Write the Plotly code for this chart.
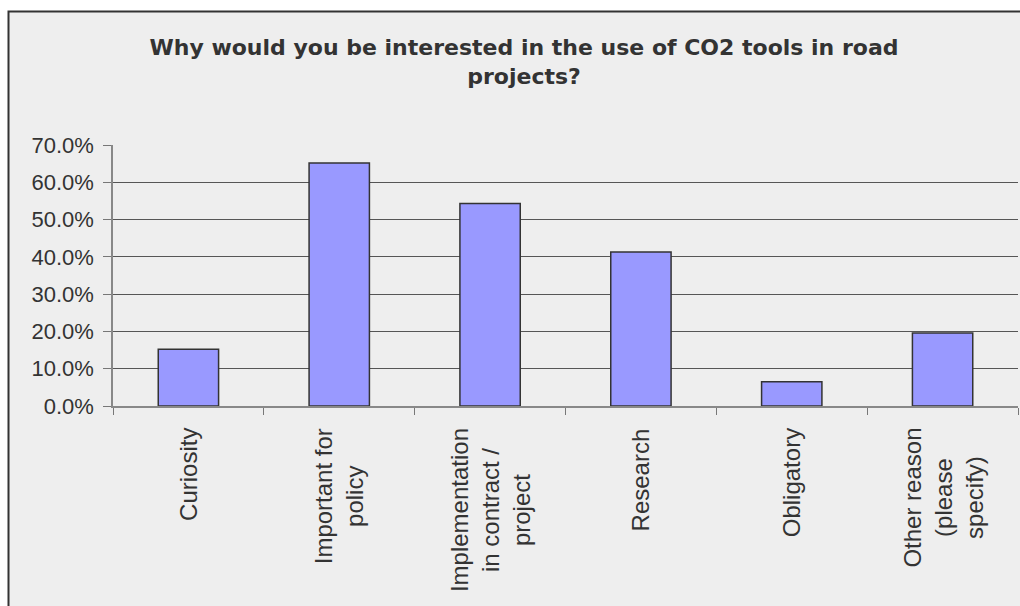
import plotly.graph_objects as go

categories = ["Curiosity", "Important for policy", "Implementation in contract / project",
              "Research", "Obligatory", "Other reason (please specify)"]
labels = ["Curiosity", "Important for<br>policy", "Implementation<br>in contract /<br>project",
          "Research", "Obligatory", "Other reason<br>(please<br>specify)"]
values = [0.152, 0.652, 0.543, 0.413, 0.065, 0.196]
title = "Why would you be interested in the use of CO2 tools in road<br>projects?"

W, H = 1020, 606
ml, mr, mt, mb = 113, 2, 145, 200
pw, ph = W - ml - mr, H - mt - mb

fig = go.Figure(go.Bar(
    x=categories, y=values,
    marker=dict(color="#9999ff", line=dict(color="#333333", width=1.5)),
))

annotations = []
for c, lab in zip(categories, labels):
    annotations.append(dict(x=c, xref="x", y=-20 / ph, yref="paper",
                            text=lab, textangle=-90, showarrow=False, align="center",
                            yanchor="top", xanchor="center",
                            font=dict(family="Liberation Sans", size=24, color="#333333")))

fig.update_layout(
    width=W, height=H,
    margin=dict(l=ml, r=mr, t=mt, b=mb, pad=0),
    paper_bgcolor="white",
    plot_bgcolor="rgba(0,0,0,0)",
    bargap=0.6,
    showlegend=False,
    title=dict(text="<b>" + title + "</b>", x=524 / W, xref="container", xanchor="center",
               y=1 - 55 / H, yref="container", yanchor="middle",
               font=dict(family="DejaVu Sans", size=22, color="#333333")),
    font=dict(family="Liberation Sans", color="#333333"),
    shapes=[dict(type="rect", xref="paper", yref="paper",
                 x0=(8.5 - ml) / pw, x1=(W + 10 - ml) / pw,
                 y0=-(mb + 10) / ph, y1=(ph + mt - 11.5) / ph,
                 fillcolor="#eeeeee", line=dict(color="#333333", width=2), layer="below")],
    annotations=annotations,
)
fig.update_xaxes(showticklabels=False, tickson="boundaries", ticks="outside", ticklen=7,
                 tickcolor="#777777", showline=True, linecolor="#888888", linewidth=1.5,
                 showgrid=False, zeroline=False)
fig.update_yaxes(range=[0, 0.7], dtick=0.1, tickformat=".1%", ticks="outside", ticklen=8,
                 tickcolor="#777777", showline=True, linecolor="#888888", linewidth=1.5,
                 showgrid=True, gridcolor="#555555", gridwidth=1, zeroline=False,
                 ticklabelstandoff=5,
                 tickfont=dict(family="Liberation Sans", size=22, color="#333333"))

fig.write_html("out.html")
